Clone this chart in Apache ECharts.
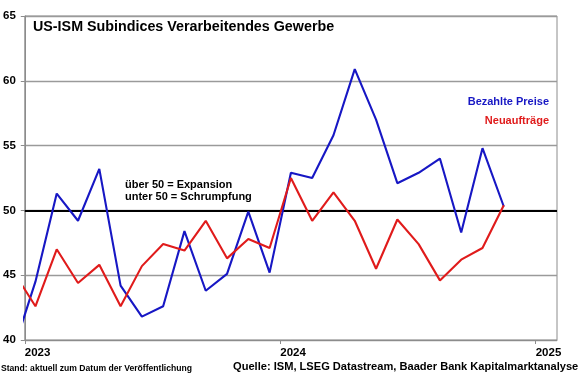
<!DOCTYPE html>
<html>
<head>
<meta charset="utf-8">
<script src="https://cdn.jsdelivr.net/npm/echarts@6/dist/echarts.min.js"></script>
<style>
html,body{margin:0;padding:0;background:#fff;}
#chart{width:580px;height:375px;}
</style>
</head>
<body>
<div id="chart"></div>
<script>
// Months (YYYY-MM); values plotted at mid-month
const months = ['2022-12','2023-01','2023-02','2023-03','2023-04','2023-05','2023-06','2023-07','2023-08','2023-09','2023-10','2023-11','2023-12',
  '2024-01','2024-02','2024-03','2024-04','2024-05','2024-06','2024-07','2024-08','2024-09','2024-10','2024-11'];
const bezahltePreise = [39.4, 44.5, 51.3, 49.2, 53.2, 44.2, 41.8, 42.6, 48.4, 43.8, 45.1, 49.9, 45.2,
  52.9, 52.5, 55.8, 60.9, 57.0, 52.1, 52.9, 54.0, 48.3, 54.8, 50.3];
const neuauftraege = [45.2, 42.6, 47.0, 44.4, 45.8, 42.6, 45.7, 47.4, 46.9, 49.2, 46.3, 47.8, 47.1,
  52.5, 49.2, 51.4, 49.2, 45.5, 49.3, 47.4, 44.6, 46.2, 47.1, 50.4];
const yearTicks = ['2023', '2024', '2025'];
const seriesNames = ['Bezahlte Preise', 'Neuaufträge'];
const threshold = 50;

const BASE_YEAR = 2023;
function monthPos(s) {
  const [y, m] = s.split('-').map(Number);
  return (y - BASE_YEAR) * 12 + (m - 1) + 0.5;
}
const tickPos = yearTicks.map(y => (Number(y) - BASE_YEAR) * 12);
const pts = arr => months.map((m, i) => [monthPos(m), arr[i]]);

const FONT = '"Liberation Sans", Arial, sans-serif';
const BLUE = '#1717c4';
const RED = '#e01b1b';

const chart = echarts.init(document.getElementById('chart'), null, {renderer: 'canvas'});
chart.setOption({
  animation: false,
  backgroundColor: '#ffffff',
  textStyle: {fontFamily: FONT},
  grid: {left: 24, right: 23, top: 16, bottom: 35, show: true, borderColor: '#8c8c8c', borderWidth: 1, backgroundColor: 'transparent'},
  legend: {
    orient: 'vertical', right: 21, top: 91, itemGap: 8, icon: 'none', itemWidth: 0, itemHeight: 0,
    align: 'right', selectedMode: false,
    data: [
      {name: seriesNames[0], textStyle: {color: BLUE}},
      {name: seriesNames[1], textStyle: {color: RED}}
    ],
    textStyle: {fontFamily: FONT, fontWeight: 'bold', fontSize: 11, padding: 0}
  },
  xAxis: {
    type: 'value', min: 0, max: 25, interval: 12,
    axisLine: {show: true, lineStyle: {color: '#8c8c8c', width: 1}},
    axisTick: {show: true, length: 4, customValues: tickPos, lineStyle: {color: '#8c8c8c'}},
    axisLabel: {customValues: tickPos, formatter: v => String(BASE_YEAR + Math.round(v / 12)), align: 'left', margin: 7,
      color: '#000', fontWeight: 'bold', fontSize: 11.5, fontFamily: FONT},
    splitLine: {show: false}
  },
  yAxis: {
    type: 'value', min: 40, max: 65, interval: 5,
    axisLine: {show: true, lineStyle: {color: '#8c8c8c', width: 1}},
    axisTick: {show: true, length: 4, lineStyle: {color: '#8c8c8c'}},
    axisLabel: {margin: 9, color: '#000', fontWeight: 'bold', fontSize: 11.5, fontFamily: FONT},
    splitLine: {show: true, lineStyle: {color: '#9a9a9a', width: 1.3}}
  },
  series: [
    {
      name: seriesNames[0], type: 'line', data: pts(bezahltePreise), showSymbol: false, symbol: 'none',
      lineStyle: {color: BLUE, width: 2.1}, itemStyle: {color: BLUE}, z: 3,
      markLine: {silent: true, symbol: 'none', label: {show: false}, lineStyle: {color: '#000', width: 2, type: 'solid'},
        data: [{yAxis: threshold}], z: 2}
    },
    {
      name: seriesNames[1], type: 'line', data: pts(neuauftraege), showSymbol: false, symbol: 'none',
      lineStyle: {color: RED, width: 2.1}, itemStyle: {color: RED}, z: 4
    }
  ],
  graphic: [
    {type: 'text', left: 33, top: 20, style: {text: 'US-ISM Subindices Verarbeitendes Gewerbe', font: 'bold 14.3px ' + FONT, fill: '#000'}},
    {type: 'text', left: 125, top: 179, style: {text: 'über 50 = Expansion\nunter 50 = Schrumpfung', font: 'bold 11px ' + FONT, fill: '#000', lineHeight: 12}},
    {type: 'text', left: 1, top: 364, style: {text: 'Stand: aktuell zum Datum der Veröffentlichung', font: 'bold 8.6px ' + FONT, fill: '#000'}},
    {type: 'text', left: 233, top: 361, style: {text: 'Quelle: ISM, LSEG Datastream, Baader Bank Kapitalmarktanalyse', font: 'bold 11.1px ' + FONT, fill: '#000'}}
  ]
});
</script>
</body>
</html>
